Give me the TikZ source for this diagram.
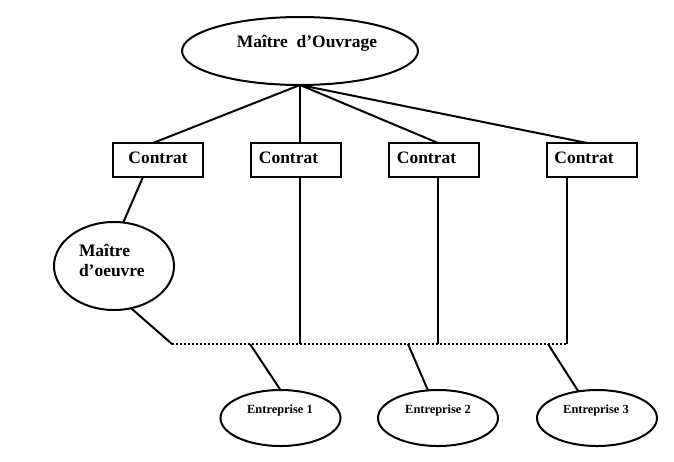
\documentclass[tikz,border=0pt]{standalone}
\usepackage{fontspec}
\setmainfont{Liberation Serif}
\usetikzlibrary{shapes.geometric}
\begin{document}
\begin{tikzpicture}[x=0.75pt,y=-0.75pt,
  every node/.style={inner sep=0pt,outer sep=0pt},
  conn/.style={line width=1.5pt},
  dotline/.style={line width=1.5pt,dash pattern=on 1.5pt off 1.5pt},
  oval/.style={draw,ellipse,line width=1.5pt},
  cbox/.style={draw,rectangle,line width=1.5pt,minimum width=67.5pt,minimum height=25.5pt},
  big/.style={font=\fontsize{13.1}{15}\selectfont\bfseries},
  small/.style={font=\fontsize{9.3}{11}\selectfont\bfseries}]
\useasboundingbox (0,0) rectangle (674,461);
% top ellipse
\node[oval,minimum width=177pt,minimum height=51pt] (mo) at (300,51) {};
\node[big] (tmo) at (307,43) {Maître~~d’Ouvrage};
% contract boxes
\node[cbox] (c1) at (158,160) {};
\node[cbox] (c2) at (296,160) {};
\node[cbox] (c3) at (433.5,160) {};
\node[cbox] (c4) at (592,160) {};
\node[big] (t1) at (158,158) {Contrat};
\node[big] (t2) at (288.5,158) {Contrat};
\node[big] (t3) at (426.5,158) {Contrat};
\node[big] (t4) at (584,158) {Contrat};
% maitre d'oeuvre
\node[oval,minimum width=90pt,minimum height=66pt] (md) at (114,266) {};
\node[big,align=left,anchor=west] (tmd) at (79,260) {Maître\\d’oeuvre};
% entreprises
\node[oval,minimum width=90pt,minimum height=42pt] (e1) at (280.5,418) {};
\node[oval,minimum width=90pt,minimum height=42pt] (e2) at (438,418) {};
\node[oval,minimum width=90pt,minimum height=42pt] (e3) at (597,418) {};
\node[small] (te1) at (280,411) {Entreprise 1};
\node[small] (te2) at (438,411) {Entreprise 2};
\node[small] (te3) at (596,411) {Entreprise 3};
% dotted line ends and taps
\coordinate (dl) at (172,344);
\coordinate (dr) at (567,344);
\coordinate (k1) at (250,344);
\coordinate (k2) at (408,344);
\coordinate (k3) at (548,344);
% connectors from top
\draw[conn] (mo.south) -- ([xshift=-3.75pt]c1.north);
\draw[conn] (mo.south) -- (mo.south |- c2.north);
\draw[conn] (mo.south) -- ([xshift=3.4pt]c3.north);
\draw[conn] (mo.south) -- ([xshift=-3.75pt]c4.north);
% box1 to maitre d'oeuvre
\draw[conn] ([xshift=-11.25pt]c1.south) -- (md.78);
\draw[conn] (md.-68) -- (dl);
% verticals
\draw[conn] (mo.south |- c2.south) -- (mo.south |- dl);
\draw[conn] ([xshift=3.4pt]c3.south) -- ([xshift=3.4pt]c3.south |- dl);
\draw[conn] ([xshift=-18.75pt]c4.south) -- (dr);
% dotted line
\draw[dotline] (dl) -- (dr);
% to entreprises
\draw[conn] (k1) -- (e1.north);
\draw[conn] (k2) -- (e2.110);
\draw[conn] (k3) -- (e3.125);
\end{tikzpicture}
\end{document}
